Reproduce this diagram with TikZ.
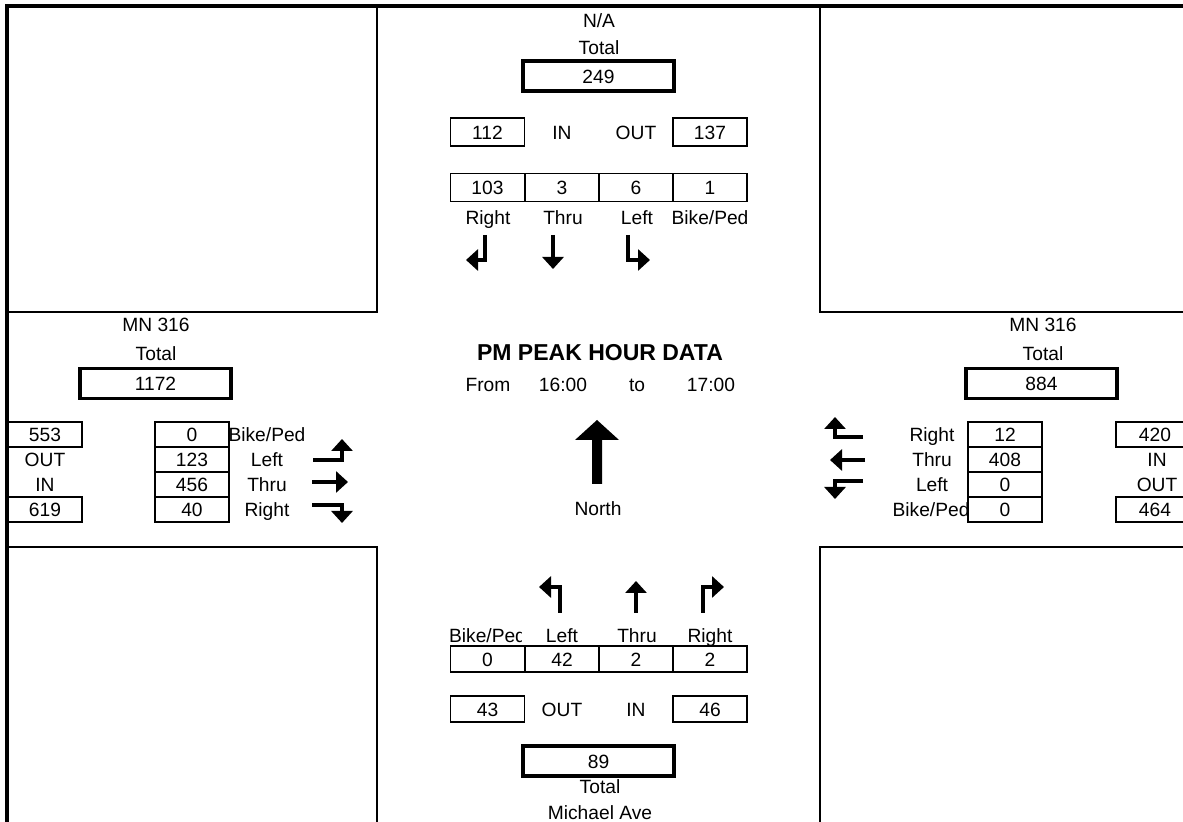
\documentclass[tikz,border=0pt]{standalone}
\usepackage{fontspec}
\setmainfont{Liberation Sans}
\usetikzlibrary{arrows.meta}
\definecolor{lineclr}{RGB}{0,0,0}
\definecolor{txtclr}{RGB}{0,0,0}
\tikzset{
  lbl/.style={inner sep=0pt,text height=0.72em,text depth=0pt,
    font=\fontsize{9.6}{11}\selectfont,text=txtclr},
  cellbox/.style={lbl,rectangle,draw=lineclr,fill=white,line width=0.9pt,
    minimum width=37pt,minimum height=12.5pt},
  tallbox/.style={cellbox,minimum height=14pt},
  midbox/.style={cellbox,minimum height=13pt},
  totbox/.style={cellbox,line width=1.75pt,minimum width=75.5pt,minimum height=15pt},
  ttl/.style={lbl,font=\fontsize{11.5}{13}\selectfont\bfseries},
  quad/.style={draw=lineclr,line width=0.9pt},
  bordr/.style={draw=lineclr,line width=2.2pt},
  trn/.style={draw=lineclr,line width=2pt,-{Triangle[width=10.5pt,length=6pt]}},
}
\begin{document}
\begin{tikzpicture}[x=0.5pt,y=-0.5pt]
  \useasboundingbox (0,0) rectangle (1183,822);

  % corner blocks and outer border
  \draw[quad] (7,312) -- (377,312) -- (377,6);
  \draw[quad] (820,6) -- (820,312) -- (1183,312);
  \draw[quad] (7,547) -- (377,547) -- (377,822);
  \draw[quad] (1183,547) -- (820,547) -- (820,822);
  \draw[bordr] (7,822) -- (7,6) -- (1183,6);

  % north approach
  \node[lbl] (nName) at (599,20) {N/A};
  \node[lbl] (nTotLbl) at (599,47) {Total};
  \node[totbox] (nTot) at (598.5,76) {249};
  \node[tallbox] (nIn) at (487.5,132) {112};
  \node[lbl] (nInLbl) at (562,132) {IN};
  \node[lbl] (nOutLbl) at (636,132) {OUT};
  \node[tallbox] (nOut) at (710,132) {137};
  \node[tallbox] (nR) at (487.5,187.5) {103};
  \node[tallbox] (nT) at (562,187.5) {3};
  \node[tallbox] (nL) at (636,187.5) {6};
  \node[tallbox] (nB) at (710,187.5) {1};
  \node[lbl] (nRLbl) at (488,217) {Right};
  \node[lbl] (nTLbl) at (563,217) {Thru};
  \node[lbl] (nLLbl) at (637,217) {Left};
  \node[lbl] (nBLbl) at (710,217) {Bike/Ped};
  \draw[trn] (485,235) -- (485,260) -- (466,260);
  \draw[trn] (553,235) -- (553,269);
  \draw[trn] (628,235) -- (628,260) -- (650,260);

  % centre
  \node[ttl] (title) at (600,353) {PM PEAK HOUR DATA};
  \node[lbl] (fromLbl) at (488,384) {From};
  \node[lbl] (tStart) at (563,384) {16:00};
  \node[lbl] (toLbl) at (637,384) {to};
  \node[lbl] (tEnd) at (711,384) {17:00};
  \fill[lineclr] (592,484) -- (592,440) -- (575,440) -- (597,420)
    -- (619,440) -- (602,440) -- (602,484) -- cycle;
  \node[lbl] (northLbl) at (598,508) {North};

  % west approach
  \node[lbl] (wName) at (156,324) {MN 316};
  \node[lbl] (wTotLbl) at (156,353) {Total};
  \node[totbox] (wTot) at (155.5,383.5) {1172};
  \node[lbl] (wBLbl) at (267,434.5) {Bike/Ped};
  \node[lbl] (wLLbl) at (267,459.5) {Left};
  \node[lbl] (wTLbl) at (267,484.5) {Thru};
  \node[lbl] (wRLbl) at (267,509.5) {Right};
  \node[cellbox] (wOut) at (45,434.5) {553};
  \node[lbl] (wOutLbl) at (45,459.5) {OUT};
  \node[lbl] (wInLbl) at (45,484.5) {IN};
  \node[cellbox] (wIn) at (45,509.5) {619};
  \node[cellbox] (wB) at (192,434.5) {0};
  \node[cellbox] (wL) at (192,459.5) {123};
  \node[cellbox] (wT) at (192,484.5) {456};
  \node[cellbox] (wR) at (192,509.5) {40};
  \draw[trn] (313,460) -- (342,460) -- (342,439);
  \draw[trn] (312,482) -- (348,482);
  \draw[trn] (312,505) -- (342,505) -- (342,523);

  % east approach
  \node[lbl] (eName) at (1043,324) {MN 316};
  \node[lbl] (eTotLbl) at (1043,353) {Total};
  \node[totbox] (eTot) at (1041.5,383.5) {884};
  \node[lbl] (eRLbl) at (932,434.5) {Right};
  \node[lbl] (eTLbl) at (932,459.5) {Thru};
  \node[lbl] (eLLbl) at (932,484.5) {Left};
  \node[lbl] (eBLbl) at (931,509.5) {Bike/Ped};
  \node[cellbox] (eR) at (1005,434.5) {12};
  \node[cellbox] (eT) at (1005,459.5) {408};
  \node[cellbox] (eL) at (1005,484.5) {0};
  \node[cellbox] (eB) at (1005,509.5) {0};
  \node[cellbox,minimum width=39pt] (eIn) at (1155,434.5) {420};
  \node[lbl] (eInLbl) at (1157,459.5) {IN};
  \node[lbl] (eOutLbl) at (1157,484.5) {OUT};
  \node[cellbox,minimum width=39pt] (eOut) at (1155,509.5) {464};
  \draw[trn] (863,437) -- (835,437) -- (835,417);
  \draw[trn] (865,460) -- (830,460);
  \draw[trn] (863,481) -- (835,481) -- (835,499);

  % south approach
  \draw[trn] (560,613) -- (560,587) -- (539,587);
  \draw[trn] (636,613) -- (636,581);
  \draw[trn] (703,613) -- (703,587) -- (724,587);
  \begin{scope}
    \clip (440,620) rectangle (521,650);
    \node[lbl] (sBLbl) at (487.5,635) {Bike/Ped};
  \end{scope}
  \node[lbl] (sLLbl) at (562,635) {Left};
  \node[lbl] (sTLbl) at (637,635) {Thru};
  \node[lbl] (sRLbl) at (710,635) {Right};
  \node[midbox] (sB) at (487.5,659) {0};
  \node[midbox] (sL) at (562,659) {42};
  \node[midbox] (sT) at (636,659) {2};
  \node[midbox] (sR) at (710,659) {2};
  \node[midbox] (sOut) at (487.5,709) {43};
  \node[lbl] (sOutLbl) at (562,709) {OUT};
  \node[lbl] (sInLbl) at (636,709) {IN};
  \node[midbox] (sIn) at (710,709) {46};
  \node[totbox] (sTot) at (598.5,761) {89};
  \node[lbl] (sTotLbl) at (600,786) {Total};
  \node[lbl] (sName) at (600,812) {Michael Ave};
\end{tikzpicture}
\end{document}
